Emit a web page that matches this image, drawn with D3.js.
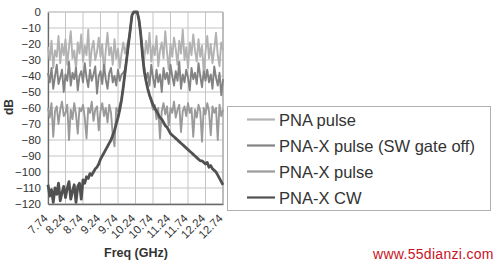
<!DOCTYPE html>
<html>
<head>
<meta charset="utf-8">
<script src="https://cdn.jsdelivr.net/npm/d3@7"></script>
<style>
  body { margin: 0; background: #fff; }
  text { font-family: "Liberation Sans", Arial, sans-serif; fill: #333; }
</style>
</head>
<body>
<div id="chart"></div>
<script>
// sweep: 7.74 GHz to 12.74 GHz, 0.05 GHz per point
var startFreq = 7.74;
var stepFreq = 0.05;

var xTicks = ['7.74','8.24','8.74','9.24','9.74','10.24','10.74','11.24','11.74','12.24','12.74'];
var yTicks = [0,-10,-20,-30,-40,-50,-60,-70,-80,-90,-100,-110,-120];

var seriesNames = ['PNA pulse', 'PNA-X pulse (SW gate off)', 'PNA-X pulse', 'PNA-X CW'];
var seriesColors = ['#b2b2b2', '#838383', '#9a9a9a', '#515151'];
var seriesWidths = [1.9, 1.9, 1.9, 2.8];

var pnaPulse = [
  -22,-30,-18,-35,-24,-28,-15,-32,-20,-27,
  -17,-33,-22,-12,-29,-24,-36,-19,-26,-14,
  -31,-21,-27,-11,-34,-23,-18,-30,-25,-16,
  -28,-20,-38,-24,-13,-27,-22,-33,-17,-29,
  -23,-35,-26,-19,-26,-21,-17,-11,-2,0,
  0,0,-5,-14,-22,-30,-18,-26,-13,-31,
  -21,-27,-15,-34,-24,-19,-29,-12,-25,-36,
  -20,-28,-16,-23,-33,-18,-26,-11,-30,-22,
  -35,-19,-27,-14,-24,-31,-17,-28,-21,-38,
  -25,-15,-29,-20,-32,-23,-13,-27,-34,-19,-24
];

var pnaxPulseGateOff = [
  -38,-44,-35,-48,-40,-33,-45,-41,-36,-50,
  -39,-43,-31,-46,-38,-42,-35,-49,-40,-37,
  -44,-32,-41,-47,-36,-43,-39,-34,-51,-40,
  -37,-45,-33,-42,-48,-38,-35,-44,-40,-46,
  -36,-43,-39,-38,-36,-29,-20,-11,-2,0,
  0,0,-5,-14,-27,-35,-42,-38,-46,-33,
  -41,-47,-36,-44,-39,-50,-35,-42,-38,-45,
  -33,-40,-46,-37,-43,-31,-48,-39,-44,-36,
  -41,-49,-35,-42,-38,-45,-32,-40,-47,-37,
  -43,-36,-44,-39,-48,-34,-41,-46,-38,-52,-42
];

var pnaxPulse = [
  -60,-66,-57,-78,-62,-59,-70,-61,-56,-65,
  -63,-58,-80,-61,-67,-57,-64,-76,-60,-62,
  -58,-66,-79,-60,-63,-56,-68,-61,-59,-74,
  -62,-57,-65,-60,-69,-58,-63,-77,-84,-60,
  -62,-58,-55,-47,-38,-29,-20,-11,-2,0,
  0,0,-5,-14,-27,-37,-43,-48,-52,-56,
  -61,-58,-67,-60,-79,-62,-57,-64,-59,-71,
  -60,-63,-56,-66,-61,-58,-75,-62,-59,-65,
  -57,-63,-60,-78,-61,-66,-58,-62,-81,-60,
  -64,-57,-62,-77,-59,-63,-60,-80,-58,-65,-61
];

var pnaxCW = [
  -108,-115,-111,-119,-110,-114,-107,-118,-113,-109,
  -116,-110,-106,-117,-112,-108,-119,-109,-107,-117,
  -105,-107,-103,-104,-101,-102,-100,-98,-97,-95,
  -92,-90,-88,-86,-84,-82,-80,-77,-74,-70,
  -66,-61,-55,-47,-38,-29,-20,-11,-2,0,
  0,0,-5,-14,-27,-37,-43,-48,-52,-55,
  -58,-60,-62,-64,-66,-67,-69,-71,-72,-74,
  -76,-77,-78,-79,-80,-81,-82,-83,-84,-85,
  -86,-87,-88,-89,-90,-91,-92,-93,-93,-94,
  -95,-94,-97,-96,-98,-99,-100,-102,-104,-106,-108
];

var allSeries = [pnaPulse, pnaxPulseGateOff, pnaxPulse, pnaxCW];

var svg = d3.select('#chart')
  .append('svg')
  .attr('width', 500)
  .attr('height', 267);

var x = d3.scaleLinear()
  .domain([7.74, 12.74])
  .range([48, 223]);

var y = d3.scaleLinear()
  .domain([-120, 0])
  .range([204, 12]);

// grid
svg.append('g')
  .selectAll('line.vgrid')
  .data(xTicks)
  .enter()
    .append('line')
    .attr('x1', function(d){return x(+d);})
    .attr('x2', function(d){return x(+d);})
    .attr('y1', y(0))
    .attr('y2', y(-120))
    .attr('stroke', '#c4c4c4')
    .attr('stroke-width', 1);

svg.append('g')
  .selectAll('line.hgrid')
  .data(yTicks)
  .enter()
    .append('line')
    .attr('x1', x(7.74))
    .attr('x2', x(12.74))
    .attr('y1', function(d){return y(d);})
    .attr('y2', function(d){return y(d);})
    .attr('stroke', '#c4c4c4')
    .attr('stroke-width', 1);

// axes
var yAxis = svg.append('g')
  .attr('transform', 'translate(48,0)')
  .call(d3.axisLeft(y).tickValues(yTicks).tickSize(0).tickPadding(7));
yAxis.select('.domain').attr('stroke', '#6a6a6a').attr('stroke-width', 1.3);
yAxis.selectAll('text').attr('font-size', 11.5).attr('fill', '#333');

var xAxis = svg.append('g')
  .attr('transform', 'translate(0,204)')
  .call(d3.axisBottom(x).tickValues(xTicks.map(Number)).tickSize(0).tickFormat(function(d, i){return xTicks[i];}));
xAxis.select('.domain').attr('stroke', '#6a6a6a').attr('stroke-width', 1.3);
xAxis.selectAll('text')
  .attr('font-size', 11.5)
  .attr('fill', '#333')
  .attr('text-anchor', 'end')
  .attr('dy', 0)
  .attr('y', 0)
  .attr('transform', 'translate(0,15) rotate(-45)');

svg.append('line')
  .attr('x1', x(12.74)).attr('x2', x(12.74))
  .attr('y1', y(0)).attr('y2', y(-120))
  .attr('stroke', '#999');
svg.append('line')
  .attr('x1', x(7.74)).attr('x2', x(12.74))
  .attr('y1', y(0)).attr('y2', y(0))
  .attr('stroke', '#c4c4c4');

// traces
var line = d3.line()
  .x(function(d, i){return x(startFreq + i*stepFreq);})
  .y(function(d){return y(d);});

svg.append('g')
  .selectAll('path.trace')
  .data(allSeries)
  .enter()
    .append('path')
    .classed('trace', true)
    .attr('d', line)
    .attr('fill', 'none')
    .attr('stroke', function(d, i){return seriesColors[i];})
    .attr('stroke-width', function(d, i){return seriesWidths[i];})
    .attr('stroke-linejoin', 'round');

// axis titles
svg.append('text')
  .attr('transform', 'translate(13,107) rotate(-90)')
  .attr('text-anchor', 'middle')
  .attr('font-size', 12)
  .attr('font-weight', 'bold')
  .text('dB');

svg.append('text')
  .attr('x', 136)
  .attr('y', 257)
  .attr('text-anchor', 'middle')
  .attr('font-size', 12.5)
  .attr('font-weight', 'bold')
  .text('Freq (GHz)');

// legend
var legend = svg.append('g');
legend.append('rect')
  .attr('x', 227.5)
  .attr('y', 106.5)
  .attr('width', 263)
  .attr('height', 104)
  .attr('fill', '#fff')
  .attr('stroke', '#b0b0b0');

var rows = legend.selectAll('g.row')
  .data(seriesNames)
  .enter()
    .append('g')
    .classed('row', true)
    .attr('transform', function(d, i){return 'translate(0,' + (119.5 + i*26) + ')';});

rows.append('line')
  .attr('x1', 247)
  .attr('x2', 275)
  .attr('stroke', function(d, i){return seriesColors[i];})
  .attr('stroke-width', 2.2);

rows.append('text')
  .attr('x', 279)
  .attr('y', 6)
  .attr('font-size', 16.5)
  .attr('fill', '#2a2a2a')
  .text(function(d){return d;});

// watermark
svg.append('text')
  .attr('x', 373)
  .attr('y', 259)
  .attr('font-size', 14)
  .attr('letter-spacing', 0.3)
  .style('fill', '#c8141e')
  .text('www.55dianzi.com');
</script>
</body>
</html>
